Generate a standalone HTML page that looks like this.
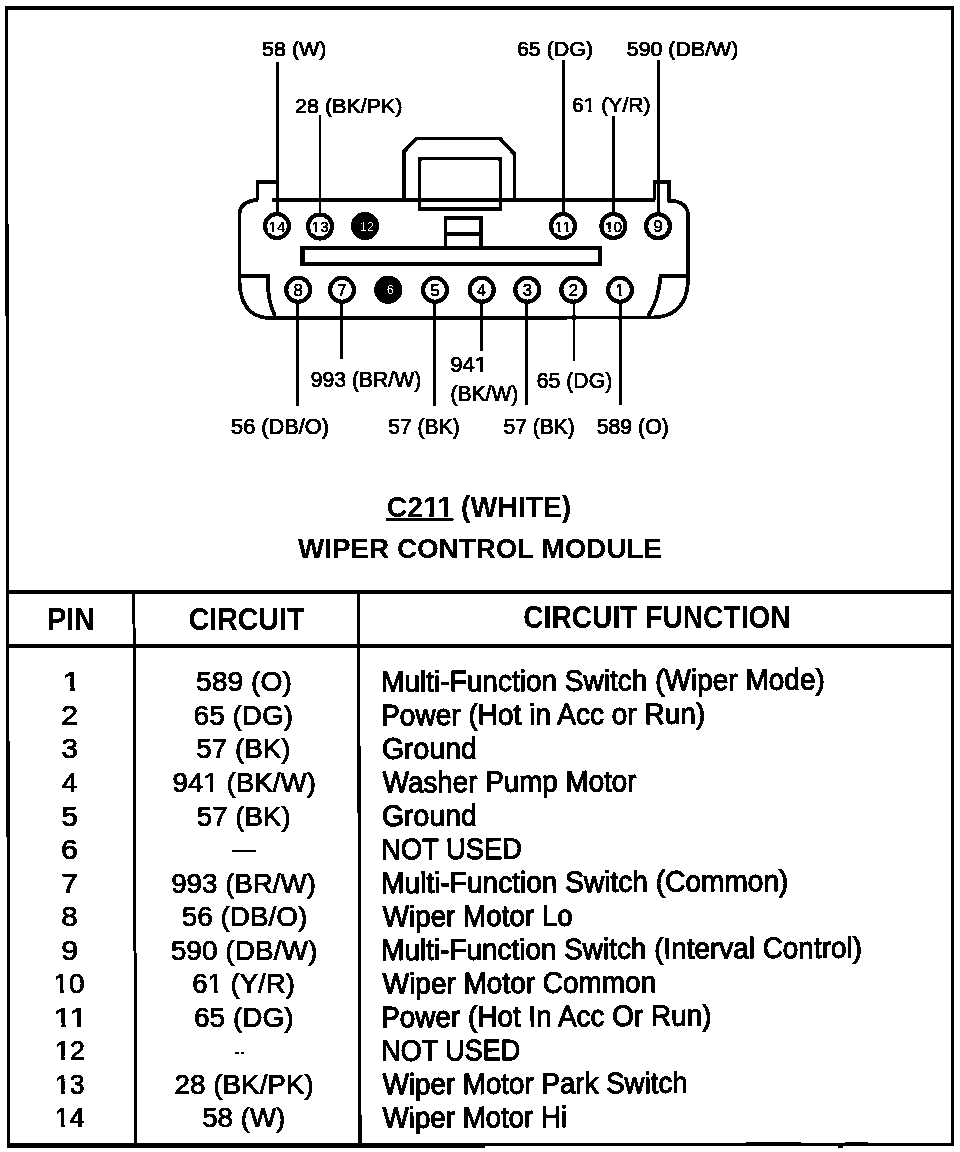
<!DOCTYPE html>
<html><head><meta charset="utf-8"><style>
html,body{margin:0;padding:0;background:#fff;width:960px;height:1152px;overflow:hidden}
svg{display:block;filter:grayscale(1)}
text{font-family:"Liberation Sans", sans-serif;fill:#000}
.s{stroke:#000;stroke-width:0.65px}
.t{stroke:#000;stroke-width:0.4px}
.u{stroke:#000;stroke-width:0.95px}
</style></head><body>
<svg width="960" height="1152" viewBox="0 0 960 1152">
<defs><filter id="bin" x="0" y="0" width="100%" height="100%" color-interpolation-filters="sRGB"><feComponentTransfer><feFuncR type="discrete" tableValues="0 0 0 1 1"/><feFuncG type="discrete" tableValues="0 0 0 1 1"/><feFuncB type="discrete" tableValues="0 0 0 1 1"/></feComponentTransfer></filter></defs>
<g filter="url(#bin)"><rect x="0" y="0" width="960" height="1152" fill="#fff"/>
<rect x="5" y="6" width="949" height="4"/>
<polygon points="5,6 8,6 10.2,1148 7.2,1148"/>
<rect x="951" y="6" width="3" height="1140"/>
<rect x="7" y="1143.5" width="478" height="4"/>
<rect x="485" y="1143.4" width="469" height="2.3"/>
<rect x="745.8" y="1141.8" width="55" height="2"/>
<rect x="845" y="1141.8" width="23" height="2"/>
<rect x="838" y="1145" width="5" height="3"/>
<rect x="6" y="590" width="948" height="4"/>
<rect x="6" y="644" width="948" height="3.6"/>
<polygon points="132.5,592 135.3,592 137,1146 134.2,1146"/>
<polygon points="357,592 360,592 361.5,1146 358.5,1146"/>
<path fill="none" stroke="#000" stroke-width="3.6" stroke-linejoin="miter" d="M 272 200 L 655 200"/>
<path fill="none" stroke="#000" stroke-width="3.6" stroke-linejoin="miter" d="M 257.5 200 L 257.5 182 L 277 182"/>
<path fill="none" stroke="#000" stroke-width="3.6" stroke-linejoin="miter" d="M 654.5 200 L 654.5 182 L 669.3 182 L 669.3 201 L 674 201 Q 688 203 688 216 L 688 282 Q 686 317 652 317.5 L 268 318 Q 241 316 239.5 282 L 239.5 213 Q 241 201 257.5 200"/>
<path fill="none" stroke="#000" stroke-width="3.6" stroke-linejoin="miter" d="M 239.5 276 L 268 276 Q 267 300 275 316"/>
<path fill="none" stroke="#000" stroke-width="3.6" stroke-linejoin="miter" d="M 688 276 L 660.5 276 Q 659 300 648 316"/>
<path fill="none" stroke="#000" stroke-width="3.6" stroke-linejoin="miter" d="M 404 199 L 404 151.5 L 416.5 138.5 L 500 138.5 L 514.5 154 L 514.5 199"/>
<rect fill="none" stroke="#000" stroke-width="3.6" stroke-linejoin="miter" x="419.5" y="158.5" width="81" height="50.8"/>
<path fill="none" stroke="#000" stroke-width="3.6" stroke-linejoin="miter" d="M 445.6 248 L 445.6 218 L 481 218 L 481 248 M 445.6 233.7 L 481 233.7"/>
<path fill="none" stroke="#000" stroke-width="3.7" d="M 302 248.3 L 600.4 248.3 L 600.4 263.8 L 302 263.8 Z"/>
<rect x="300" y="248" width="5" height="18"/>
<circle cx="277" cy="226" r="12" fill="none" stroke="#000" stroke-width="4"/>
<text x="268.6" y="231.5" font-size="15.5" textLength="17" lengthAdjust="spacingAndGlyphs" class="t">14</text>
<circle cx="320" cy="226.5" r="12" fill="none" stroke="#000" stroke-width="4"/>
<text x="311.6" y="232.0" font-size="15.5" textLength="17" lengthAdjust="spacingAndGlyphs" class="t">13</text>
<circle cx="365" cy="226" r="14"/>
<text x="367" y="230.5" font-size="12.5" style="fill:#fff" text-anchor="middle">12</text>
<circle cx="563" cy="226" r="12" fill="none" stroke="#000" stroke-width="4"/>
<text x="554.6" y="231.5" font-size="15.5" textLength="17" lengthAdjust="spacingAndGlyphs" class="t">11</text>
<circle cx="613.4" cy="226" r="12" fill="none" stroke="#000" stroke-width="4"/>
<text x="605.0" y="231.5" font-size="15.5" textLength="17" lengthAdjust="spacingAndGlyphs" class="t">10</text>
<circle cx="658" cy="226.3" r="12" fill="none" stroke="#000" stroke-width="4"/>
<text x="658" y="232.3" font-size="16.5" text-anchor="middle" class="t">9</text>
<circle cx="298.2" cy="289.8" r="12" fill="none" stroke="#000" stroke-width="4"/>
<text x="298.2" y="295.8" font-size="16.5" text-anchor="middle" class="t">8</text>
<circle cx="342" cy="289.8" r="12" fill="none" stroke="#000" stroke-width="4"/>
<text x="342" y="295.8" font-size="16.5" text-anchor="middle" class="t">7</text>
<circle cx="388.3" cy="289.8" r="14"/>
<text x="390.3" y="294.3" font-size="12.5" style="fill:#fff" text-anchor="middle">6</text>
<circle cx="435" cy="289.8" r="12" fill="none" stroke="#000" stroke-width="4"/>
<text x="435" y="295.8" font-size="16.5" text-anchor="middle" class="t">5</text>
<circle cx="481.7" cy="289.8" r="12" fill="none" stroke="#000" stroke-width="4"/>
<text x="481.7" y="295.8" font-size="16.5" text-anchor="middle" class="t">4</text>
<circle cx="527.3" cy="289.8" r="12" fill="none" stroke="#000" stroke-width="4"/>
<text x="527.3" y="295.8" font-size="16.5" text-anchor="middle" class="t">3</text>
<circle cx="573.3" cy="289.8" r="12" fill="none" stroke="#000" stroke-width="4"/>
<text x="573.3" y="295.8" font-size="16.5" text-anchor="middle" class="t">2</text>
<circle cx="620" cy="289.8" r="12" fill="none" stroke="#000" stroke-width="4"/>
<text x="620" y="295.8" font-size="16.5" text-anchor="middle" class="t">1</text>
<line x1="277.4" y1="62" x2="277.4" y2="212" stroke="#000" stroke-width="2.8"/>
<line x1="320" y1="115" x2="320" y2="212" stroke="#000" stroke-width="2.8"/>
<line x1="563.6" y1="60" x2="563.6" y2="212" stroke="#000" stroke-width="2.8"/>
<line x1="613.6" y1="116" x2="613.6" y2="212" stroke="#000" stroke-width="2.8"/>
<line x1="658.4" y1="60" x2="658.4" y2="212" stroke="#000" stroke-width="2.8"/>
<line x1="297.7" y1="303" x2="297.7" y2="405.6" stroke="#000" stroke-width="2.8"/>
<line x1="341.6" y1="303" x2="341.6" y2="359" stroke="#000" stroke-width="2.8"/>
<line x1="434.8" y1="303" x2="434.8" y2="406.4" stroke="#000" stroke-width="2.8"/>
<line x1="481.3" y1="303" x2="481.3" y2="351" stroke="#000" stroke-width="2.8"/>
<line x1="526.8" y1="303" x2="526.8" y2="405" stroke="#000" stroke-width="2.8"/>
<line x1="574.0" y1="303" x2="574.0" y2="361" stroke="#000" stroke-width="2.8"/>
<line x1="620.2" y1="303" x2="620.2" y2="405" stroke="#000" stroke-width="2.8"/>
<text x="262.14" y="55.8" font-size="20" font-weight="normal" textLength="64.25" lengthAdjust="spacingAndGlyphs" class="s">58 (W)</text>
<text x="295.10" y="113.3" font-size="20.5" font-weight="normal" textLength="107.35" lengthAdjust="spacingAndGlyphs" class="s">28 (BK/PK)</text>
<text x="516.93" y="56" font-size="20" font-weight="normal" textLength="76.18" lengthAdjust="spacingAndGlyphs" class="s">65 (DG)</text>
<text x="626.75" y="55.6" font-size="20" font-weight="normal" textLength="111.61" lengthAdjust="spacingAndGlyphs" class="s">590 (DB/W)</text>
<text x="571.94" y="111.8" font-size="20" font-weight="normal" textLength="78.59" lengthAdjust="spacingAndGlyphs" class="s">61 (Y/R)</text>
<text x="310.87" y="386.9" font-size="21.5" font-weight="normal" textLength="110.36" lengthAdjust="spacingAndGlyphs" class="s">993 (BR/W)</text>
<text x="231.04" y="434" font-size="21.5" font-weight="normal" textLength="97.90" lengthAdjust="spacingAndGlyphs" class="s">56 (DB/O)</text>
<text x="388.37" y="434" font-size="21.5" font-weight="normal" textLength="71.34" lengthAdjust="spacingAndGlyphs" class="s">57 (BK)</text>
<text x="450.20" y="371.6" font-size="22" font-weight="normal" textLength="36.83" lengthAdjust="spacingAndGlyphs" class="s">941</text>
<text x="450.44" y="401.2" font-size="22.5" font-weight="normal" textLength="67.90" lengthAdjust="spacingAndGlyphs" class="s">(BK/W)</text>
<text x="536.74" y="387.5" font-size="22" font-weight="normal" textLength="75.55" lengthAdjust="spacingAndGlyphs" class="s">65 (DG)</text>
<text x="503.57" y="434" font-size="21.5" font-weight="normal" textLength="71.24" lengthAdjust="spacingAndGlyphs" class="s">57 (BK)</text>
<text x="596.76" y="434" font-size="21.5" font-weight="normal" textLength="71.96" lengthAdjust="spacingAndGlyphs" class="s">589 (O)</text>
<text x="386.87" y="517" font-size="30" font-weight="bold" textLength="184.33" lengthAdjust="spacingAndGlyphs">C211 (WHITE)</text>
<rect x="386" y="517.7" width="67.5" height="3"/>
<text x="298.00" y="557.5" font-size="28" font-weight="bold" textLength="364.08" lengthAdjust="spacingAndGlyphs">WIPER CONTROL MODULE</text>
<text x="47.18" y="629.5" font-size="30.5" font-weight="bold" textLength="47.69" lengthAdjust="spacingAndGlyphs">PIN</text>
<text x="188.64" y="629.5" font-size="30.5" font-weight="bold" textLength="115.68" lengthAdjust="spacingAndGlyphs">CIRCUIT</text>
<text x="523.25" y="627.5" font-size="30.5" font-weight="bold" textLength="267.46" lengthAdjust="spacingAndGlyphs">CIRCUIT FUNCTION</text>
<text x="62.54" y="691.3" font-size="28" font-weight="normal" textLength="18.78" lengthAdjust="spacingAndGlyphs" class="s">1</text>
<text x="196.06" y="691.3" font-size="28.5" font-weight="normal" textLength="95.79" lengthAdjust="spacingAndGlyphs" class="s">589 (O)</text>
<text x="381.17" y="691.7" font-size="29.5" font-weight="normal" textLength="443.68" lengthAdjust="spacingAndGlyphs" class="u" transform="rotate(-0.3 383.5 691.3)">Multi-Function Switch (Wiper Mode)</text>
<text x="61.07" y="724.85" font-size="28" font-weight="normal" textLength="17.03" lengthAdjust="spacingAndGlyphs" class="s">2</text>
<text x="193.58" y="724.85" font-size="28.5" font-weight="normal" textLength="99.49" lengthAdjust="spacingAndGlyphs" class="s">65 (DG)</text>
<text x="381.17" y="725.25" font-size="29.5" font-weight="normal" textLength="324.09" lengthAdjust="spacingAndGlyphs" class="u" transform="rotate(-0.3 383.5 724.85)">Power (Hot in Acc or Run)</text>
<text x="61.43" y="758.4" font-size="28" font-weight="normal" textLength="16.52" lengthAdjust="spacingAndGlyphs" class="s">3</text>
<text x="196.28" y="758.4" font-size="28.5" font-weight="normal" textLength="94.35" lengthAdjust="spacingAndGlyphs" class="s">57 (BK)</text>
<text x="382.01" y="758.8" font-size="29.5" font-weight="normal" textLength="94.87" lengthAdjust="spacingAndGlyphs" class="u" transform="rotate(-0.3 383.5 758.4)">Ground</text>
<text x="62.01" y="791.95" font-size="28" font-weight="normal" textLength="15.35" lengthAdjust="spacingAndGlyphs" class="s">4</text>
<text x="172.49" y="791.95" font-size="28.5" font-weight="normal" textLength="143.40" lengthAdjust="spacingAndGlyphs" class="s">941 (BK/W)</text>
<text x="382.76" y="792.35" font-size="29.5" font-weight="normal" textLength="253.76" lengthAdjust="spacingAndGlyphs" class="u" transform="rotate(-0.3 382.9 791.95)">Washer Pump Motor</text>
<text x="61.44" y="825.5" font-size="28" font-weight="normal" textLength="16.39" lengthAdjust="spacingAndGlyphs" class="s">5</text>
<text x="196.79" y="825.5" font-size="28.5" font-weight="normal" textLength="93.83" lengthAdjust="spacingAndGlyphs" class="s">57 (BK)</text>
<text x="382.01" y="825.9" font-size="29.5" font-weight="normal" textLength="94.87" lengthAdjust="spacingAndGlyphs" class="u" transform="rotate(-0.3 383.5 825.5)">Ground</text>
<text x="61.08" y="859.05" font-size="28" font-weight="normal" textLength="16.90" lengthAdjust="spacingAndGlyphs" class="s">6</text>
<rect x="231.9" y="850.00" width="24.1" height="1.9"/>
<text x="381.23" y="859.45" font-size="29.5" font-weight="normal" textLength="140.91" lengthAdjust="spacingAndGlyphs" class="u" transform="rotate(-0.3 383.5 859.05)">NOT USED</text>
<text x="61.07" y="892.6" font-size="28" font-weight="normal" textLength="17.03" lengthAdjust="spacingAndGlyphs" class="s">7</text>
<text x="171.19" y="892.6" font-size="28.5" font-weight="normal" textLength="144.77" lengthAdjust="spacingAndGlyphs" class="s">993 (BR/W)</text>
<text x="381.17" y="893.0" font-size="29.5" font-weight="normal" textLength="407.24" lengthAdjust="spacingAndGlyphs" class="u" transform="rotate(-0.3 383.5 892.6)">Multi-Function Switch (Common)</text>
<text x="61.33" y="926.15" font-size="28" font-weight="normal" textLength="16.52" lengthAdjust="spacingAndGlyphs" class="s">8</text>
<text x="181.78" y="926.15" font-size="28.5" font-weight="normal" textLength="125.61" lengthAdjust="spacingAndGlyphs" class="s">56 (DB/O)</text>
<text x="382.76" y="926.55" font-size="29.5" font-weight="normal" textLength="190.07" lengthAdjust="spacingAndGlyphs" class="u" transform="rotate(-0.3 382.9 926.15)">Wiper Motor Lo</text>
<text x="61.19" y="959.7" font-size="28" font-weight="normal" textLength="16.90" lengthAdjust="spacingAndGlyphs" class="s">9</text>
<text x="170.77" y="959.7" font-size="28.5" font-weight="normal" textLength="146.51" lengthAdjust="spacingAndGlyphs" class="s">590 (DB/W)</text>
<text x="381.18" y="960.1" font-size="29.5" font-weight="normal" textLength="480.78" lengthAdjust="spacingAndGlyphs" class="u" transform="rotate(-0.3 383.5 959.7)">Multi-Function Switch (Interval Control)</text>
<text x="53.49" y="993.25" font-size="28" font-weight="normal" textLength="31.26" lengthAdjust="spacingAndGlyphs" class="s">10</text>
<text x="192.20" y="993.25" font-size="28.5" font-weight="normal" textLength="102.71" lengthAdjust="spacingAndGlyphs" class="s">61 (Y/R)</text>
<text x="382.76" y="993.65" font-size="29.5" font-weight="normal" textLength="273.49" lengthAdjust="spacingAndGlyphs" class="u" transform="rotate(-0.3 382.9 993.25)">Wiper Motor Common</text>
<text x="53.85" y="1026.8" font-size="28" font-weight="normal" textLength="33.93" lengthAdjust="spacingAndGlyphs" class="s">11</text>
<text x="193.97" y="1026.8" font-size="28.5" font-weight="normal" textLength="99.70" lengthAdjust="spacingAndGlyphs" class="s">65 (DG)</text>
<text x="381.18" y="1027.2" font-size="29.5" font-weight="normal" textLength="330.35" lengthAdjust="spacingAndGlyphs" class="u" transform="rotate(-0.3 383.5 1026.8)">Power (Hot In Acc Or Run)</text>
<text x="55.02" y="1060.35" font-size="28" font-weight="normal" textLength="29.76" lengthAdjust="spacingAndGlyphs" class="s">12</text>
<rect x="235" y="1052.00" width="3.9" height="1.9"/><rect x="241.1" y="1052.00" width="2.8" height="1.9"/>
<text x="381.26" y="1060.75" font-size="29.5" font-weight="normal" textLength="139.07" lengthAdjust="spacingAndGlyphs" class="u" transform="rotate(-0.3 383.5 1060.35)">NOT USED</text>
<text x="55.03" y="1093.9" font-size="28" font-weight="normal" textLength="29.66" lengthAdjust="spacingAndGlyphs" class="s">13</text>
<text x="174.58" y="1093.9" font-size="28.5" font-weight="normal" textLength="139.18" lengthAdjust="spacingAndGlyphs" class="s">28 (BK/PK)</text>
<text x="382.76" y="1094.3" font-size="29.5" font-weight="normal" textLength="305.04" lengthAdjust="spacingAndGlyphs" class="u" transform="rotate(-0.3 382.9 1093.9)">Wiper Motor Park Switch</text>
<text x="55.06" y="1127.45" font-size="28" font-weight="normal" textLength="29.34" lengthAdjust="spacingAndGlyphs" class="s">14</text>
<text x="202.18" y="1127.45" font-size="28.5" font-weight="normal" textLength="83.12" lengthAdjust="spacingAndGlyphs" class="s">58 (W)</text>
<text x="382.76" y="1127.85" font-size="29.5" font-weight="normal" textLength="184.36" lengthAdjust="spacingAndGlyphs" class="u" transform="rotate(-0.3 382.9 1127.45)">Wiper Motor Hi</text>
<rect x="268.26" y="228.79" width="3.67" height="4.21" fill="#fff"/>
<rect x="274.28" y="228.79" width="3.55" height="4.21" fill="#fff"/>
<rect x="311.26" y="229.29" width="3.67" height="4.21" fill="#fff"/>
<rect x="317.28" y="229.29" width="3.55" height="4.21" fill="#fff"/>
<rect x="554.34" y="228.79" width="3.87" height="4.21" fill="#fff"/>
<rect x="560.65" y="228.79" width="3.73" height="4.21" fill="#fff"/>
<rect x="562.24" y="228.79" width="3.87" height="4.21" fill="#fff"/>
<rect x="568.54" y="228.79" width="3.73" height="4.21" fill="#fff"/>
<rect x="604.66" y="228.79" width="3.67" height="4.21" fill="#fff"/>
<rect x="610.68" y="228.79" width="3.55" height="4.21" fill="#fff"/>
<rect x="615.17" y="293.01" width="3.89" height="4.29" fill="#fff"/>
<rect x="621.51" y="293.01" width="3.76" height="4.29" fill="#fff"/>
<rect x="583.79" y="108.61" width="4.57" height="4.81" fill="#fff"/>
<rect x="591.46" y="108.61" width="4.40" height="4.81" fill="#fff"/>
<rect x="474.92" y="368.26" width="4.74" height="4.97" fill="#fff"/>
<rect x="482.85" y="368.26" width="4.56" height="4.97" fill="#fff"/>
<rect x="423.40" y="512.61" width="6.02" height="5.69" fill="#fff"/>
<rect x="433.90" y="512.61" width="5.65" height="5.69" fill="#fff"/>
<rect x="437.60" y="512.61" width="6.02" height="5.69" fill="#fff"/>
<rect x="448.11" y="512.61" width="5.65" height="5.69" fill="#fff"/>
<rect x="63.61" y="687.49" width="6.78" height="5.43" fill="#fff"/>
<rect x="74.62" y="687.49" width="6.51" height="5.43" fill="#fff"/>
<rect x="203.96" y="788.10" width="5.73" height="5.47" fill="#fff"/>
<rect x="213.38" y="788.10" width="5.51" height="5.47" fill="#fff"/>
<rect x="54.13" y="989.44" width="5.79" height="5.43" fill="#fff"/>
<rect x="63.64" y="989.44" width="5.57" height="5.43" fill="#fff"/>
<rect x="208.14" y="989.40" width="5.70" height="5.47" fill="#fff"/>
<rect x="217.52" y="989.40" width="5.48" height="5.47" fill="#fff"/>
<rect x="54.83" y="1022.99" width="6.60" height="5.43" fill="#fff"/>
<rect x="65.55" y="1022.99" width="6.33" height="5.43" fill="#fff"/>
<rect x="70.59" y="1022.99" width="6.60" height="5.43" fill="#fff"/>
<rect x="81.31" y="1022.99" width="6.33" height="5.43" fill="#fff"/>
<rect x="55.55" y="1056.54" width="5.56" height="5.43" fill="#fff"/>
<rect x="64.72" y="1056.54" width="5.34" height="5.43" fill="#fff"/>
<rect x="55.56" y="1090.09" width="5.54" height="5.43" fill="#fff"/>
<rect x="64.69" y="1090.09" width="5.33" height="5.43" fill="#fff"/>
<rect x="55.56" y="1123.64" width="5.49" height="5.43" fill="#fff"/>
<rect x="64.62" y="1123.64" width="5.28" height="5.43" fill="#fff"/>
</g></svg>
</body></html>
